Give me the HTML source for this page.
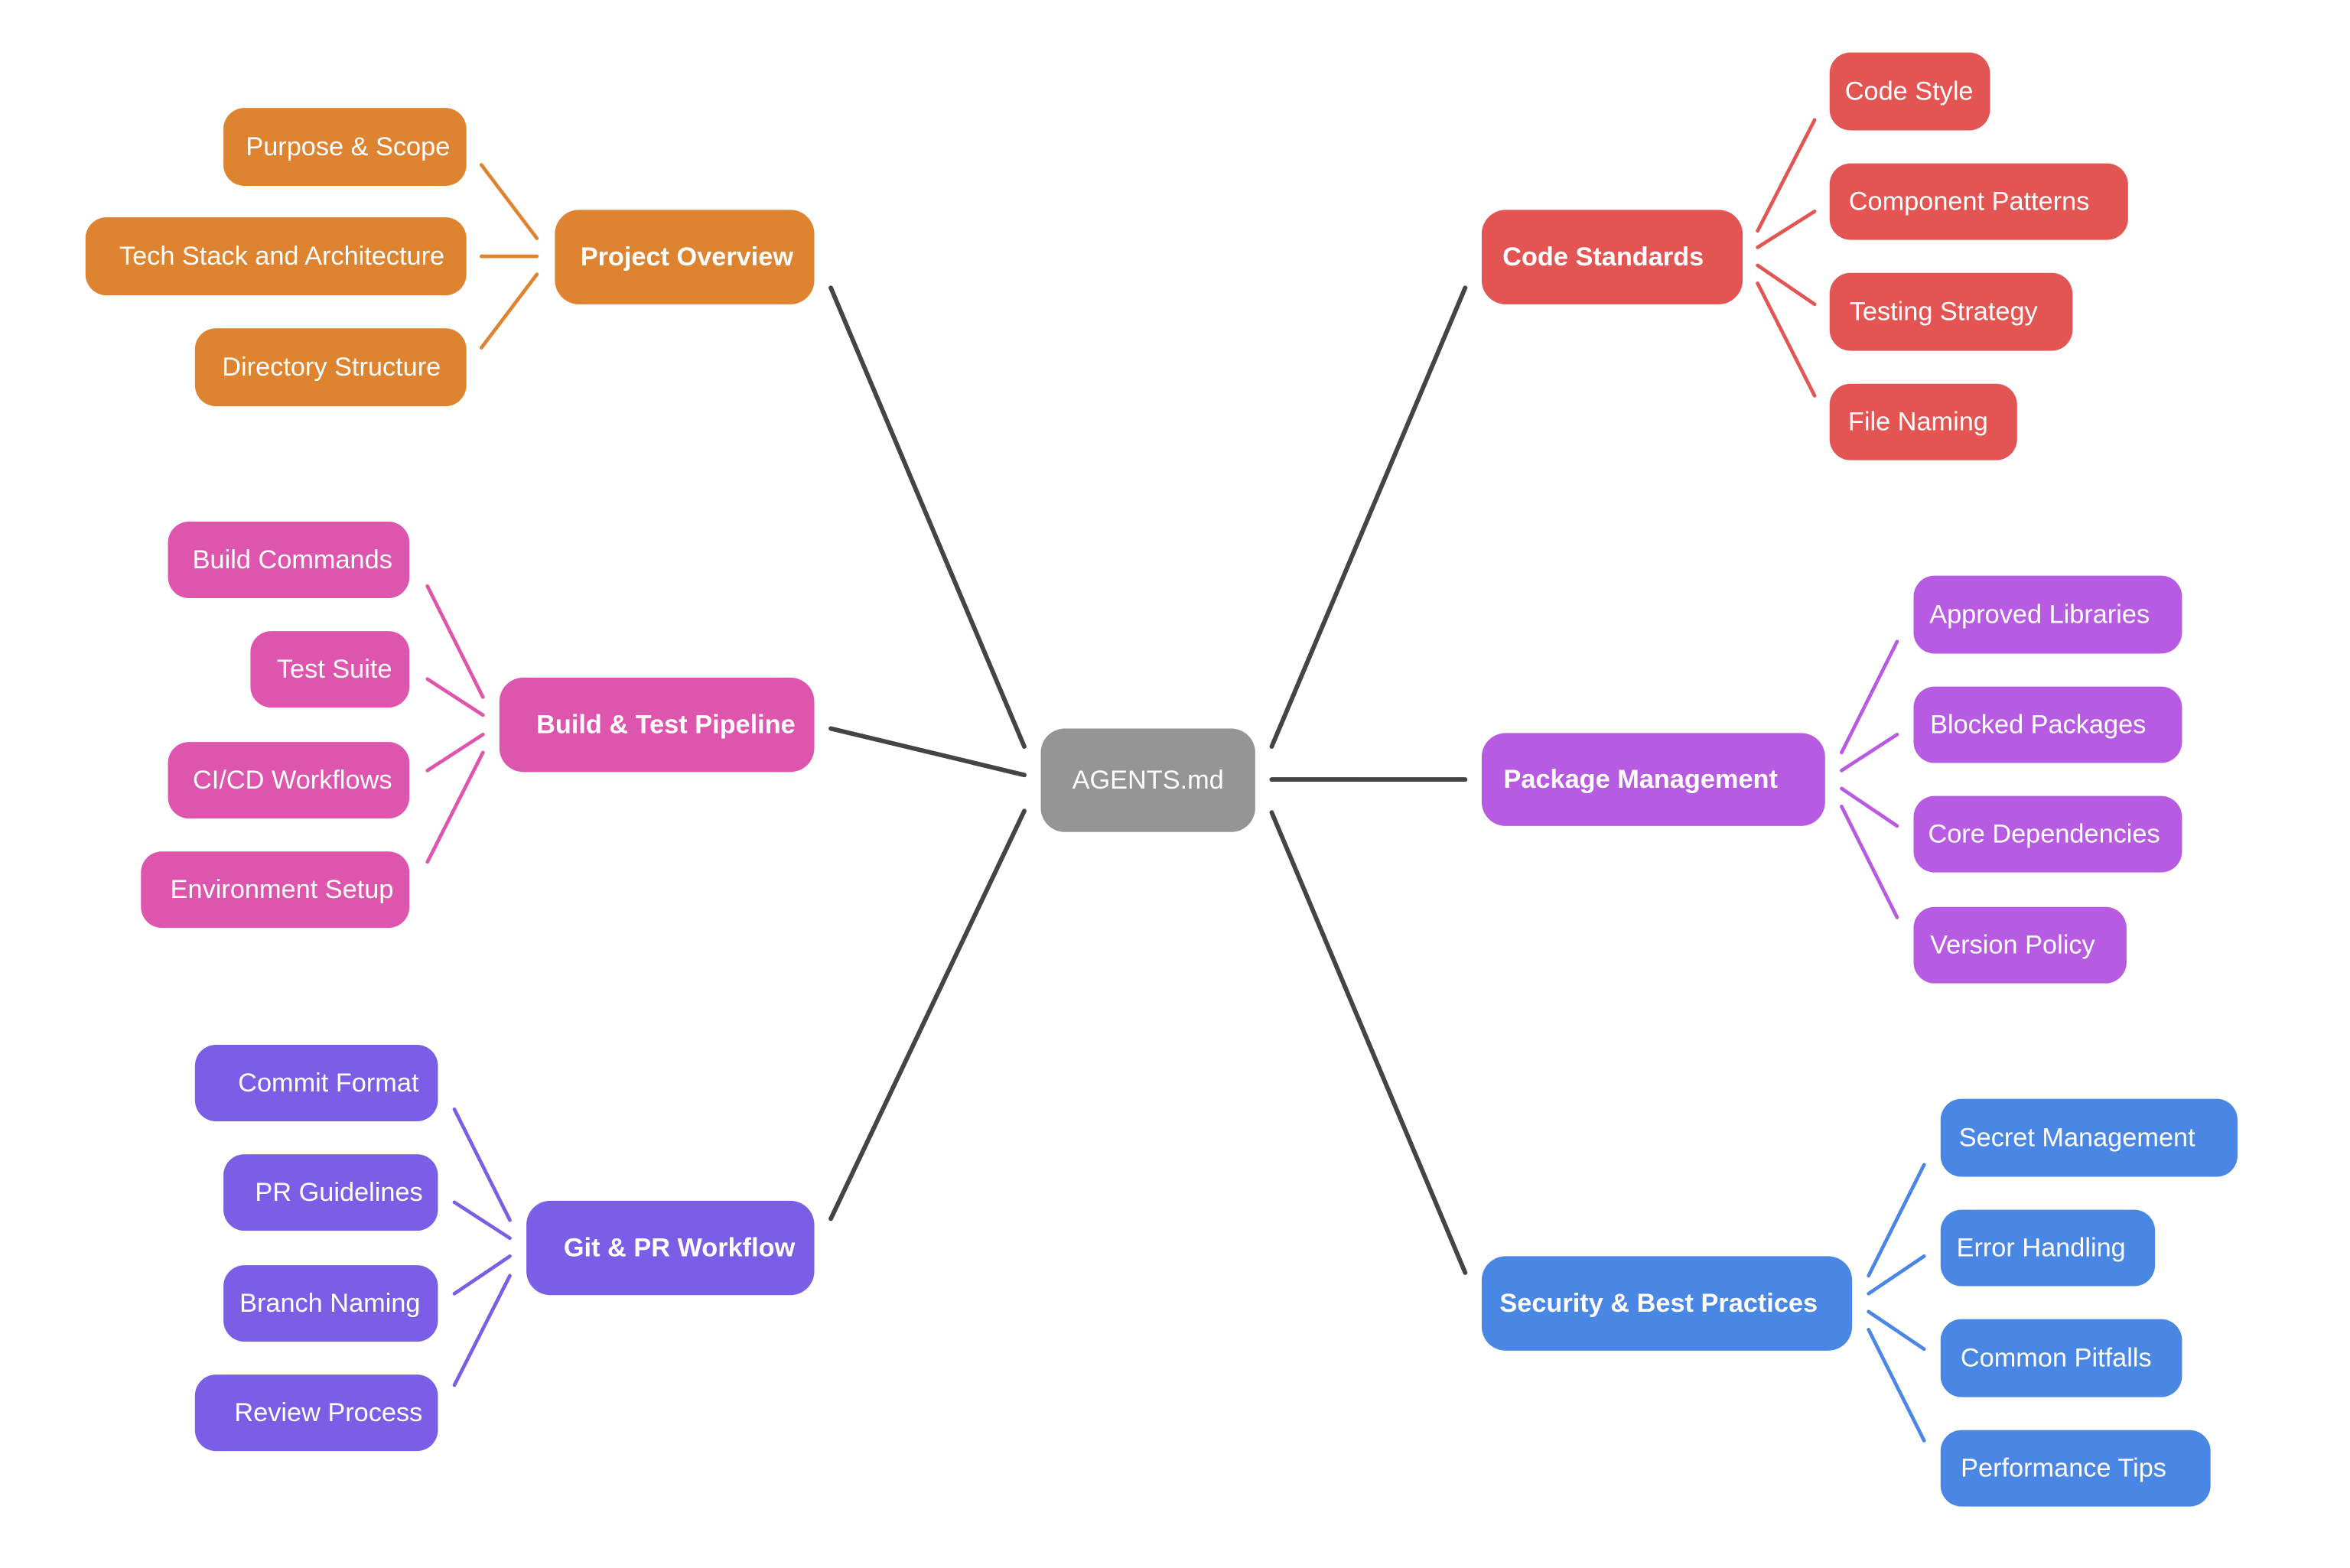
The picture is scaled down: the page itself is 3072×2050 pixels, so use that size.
<!DOCTYPE html>
<html><head><meta charset="utf-8"><style>
html,body{margin:0;padding:0;background:#fff;}
svg{display:block;}
text{font-family:"Liberation Sans",sans-serif;fill:#fff;dominant-baseline:central;text-anchor:middle;}
.l{font-size:17.5px;}
.b{font-size:17.5px;font-weight:bold;}
</style></head><body>
<svg width="3072" height="2050" viewBox="0 0 1567 1046" preserveAspectRatio="none" xmlns="http://www.w3.org/2000/svg">
<g stroke-linecap="round" fill="none">
<g stroke="#444" stroke-width="3">
<line x1="554" y1="192" x2="683" y2="498"/>
<line x1="554" y1="486" x2="683" y2="517"/>
<line x1="554" y1="813" x2="683" y2="541"/>
<line x1="848" y1="498" x2="977" y2="192"/>
<line x1="848" y1="520" x2="977" y2="520"/>
<line x1="848" y1="542" x2="977" y2="849"/>
</g>
<g stroke="#DE8431" stroke-width="2.4">
<line x1="321" y1="110" x2="358" y2="159"/>
<line x1="321" y1="171" x2="358" y2="171"/>
<line x1="321" y1="232" x2="358" y2="183"/>
</g>
<g stroke="#E25552" stroke-width="2.4">
<line x1="1172" y1="154" x2="1210" y2="80"/>
<line x1="1172" y1="165" x2="1210" y2="141"/>
<line x1="1172" y1="177" x2="1210" y2="203"/>
<line x1="1172" y1="189" x2="1210" y2="264"/>
</g>
<g stroke="#DD55AC" stroke-width="2.4">
<line x1="285" y1="391" x2="322" y2="465"/>
<line x1="285" y1="453" x2="322" y2="477"/>
<line x1="285" y1="514" x2="322" y2="490"/>
<line x1="285" y1="575" x2="322" y2="502"/>
</g>
<g stroke="#B75CE2" stroke-width="2.4">
<line x1="1228" y1="502" x2="1265" y2="428"/>
<line x1="1228" y1="514" x2="1265" y2="490"/>
<line x1="1228" y1="526" x2="1265" y2="551"/>
<line x1="1228" y1="538" x2="1265" y2="612"/>
</g>
<g stroke="#7A5FE6" stroke-width="2.4">
<line x1="303" y1="740" x2="340" y2="814"/>
<line x1="303" y1="802" x2="340" y2="826"/>
<line x1="303" y1="863" x2="340" y2="838"/>
<line x1="303" y1="924" x2="340" y2="851"/>
</g>
<g stroke="#4A86E4" stroke-width="2.4">
<line x1="1246" y1="851" x2="1283" y2="777"/>
<line x1="1246" y1="863" x2="1283" y2="838"/>
<line x1="1246" y1="875" x2="1283" y2="900"/>
<line x1="1246" y1="887" x2="1283" y2="961"/>
</g>
</g>

<rect x="694" y="486" width="143" height="69" rx="16" fill="#959595"/>
<text class="l" x="765.5" y="520.5">AGENTS.md</text>

<g fill="#DE8431">
<rect x="370" y="140" width="173" height="63" rx="16"/>
<rect x="149" y="72" width="162" height="52" rx="14"/>
<rect x="57" y="145" width="254" height="52" rx="14"/>
<rect x="130" y="219" width="181" height="52" rx="14"/>
</g>
<text class="b" x="458" y="171.5">Project Overview</text>
<text class="l" x="232" y="98">Purpose &amp; Scope</text>
<text class="l" x="188" y="171">Tech Stack and Architecture</text>
<text class="l" x="221" y="245">Directory Structure</text>

<g fill="#E25552">
<rect x="988" y="140" width="174" height="63" rx="16"/>
<rect x="1220" y="35" width="107" height="52" rx="14"/>
<rect x="1220" y="109" width="199" height="51" rx="14"/>
<rect x="1220" y="182" width="162" height="52" rx="14"/>
<rect x="1220" y="256" width="125" height="51" rx="14"/>
</g>
<text class="b" x="1069" y="171.5">Code Standards</text>
<text class="l" x="1273" y="61">Code Style</text>
<text class="l" x="1313" y="134.5">Component Patterns</text>
<text class="l" x="1296" y="208">Testing Strategy</text>
<text class="l" x="1279" y="281.5">File Naming</text>

<g fill="#DD55AC">
<rect x="333" y="452" width="210" height="63" rx="16"/>
<rect x="112" y="348" width="161" height="51" rx="14"/>
<rect x="167" y="421" width="106" height="51" rx="14"/>
<rect x="112" y="495" width="161" height="51" rx="14"/>
<rect x="94" y="568" width="179" height="51" rx="14"/>
</g>
<text class="b" x="444" y="483.5">Build &amp; Test Pipeline</text>
<text class="l" x="195" y="373.5">Build Commands</text>
<text class="l" x="223" y="446.5">Test Suite</text>
<text class="l" x="195" y="520.5">CI/CD Workflows</text>
<text class="l" x="188" y="593.5">Environment Setup</text>

<g fill="#B75CE2">
<rect x="988" y="489" width="229" height="62" rx="16"/>
<rect x="1276" y="384" width="179" height="52" rx="14"/>
<rect x="1276" y="458" width="179" height="51" rx="14"/>
<rect x="1276" y="531" width="179" height="51" rx="14"/>
<rect x="1276" y="605" width="142" height="51" rx="14"/>
</g>
<text class="b" x="1094" y="520">Package Management</text>
<text class="l" x="1360" y="410">Approved Libraries</text>
<text class="l" x="1359" y="483.5">Blocked Packages</text>
<text class="l" x="1363" y="556.5">Core Dependencies</text>
<text class="l" x="1342" y="630.5">Version Policy</text>

<g fill="#7A5FE6">
<rect x="351" y="801" width="192" height="63" rx="16"/>
<rect x="130" y="697" width="162" height="51" rx="14"/>
<rect x="149" y="770" width="143" height="51" rx="14"/>
<rect x="149" y="844" width="143" height="51" rx="14"/>
<rect x="130" y="917" width="162" height="51" rx="14"/>
</g>
<text class="b" x="453" y="832.5">Git &amp; PR Workflow</text>
<text class="l" x="219" y="722.5">Commit Format</text>
<text class="l" x="226" y="795.5">PR Guidelines</text>
<text class="l" x="220" y="869.5">Branch Naming</text>
<text class="l" x="219" y="942.5">Review Process</text>

<g fill="#4A86E4">
<rect x="988" y="838" width="247" height="63" rx="16"/>
<rect x="1294" y="733" width="198" height="52" rx="14"/>
<rect x="1294" y="807" width="143" height="51" rx="14"/>
<rect x="1294" y="880" width="161" height="52" rx="14"/>
<rect x="1294" y="954" width="180" height="51" rx="14"/>
</g>
<text class="b" x="1106" y="869.5">Security &amp; Best Practices</text>
<text class="l" x="1385" y="759">Secret Management</text>
<text class="l" x="1361" y="832.5">Error Handling</text>
<text class="l" x="1371" y="906">Common Pitfalls</text>
<text class="l" x="1376" y="979.5">Performance Tips</text>
</svg>
</body></html>
